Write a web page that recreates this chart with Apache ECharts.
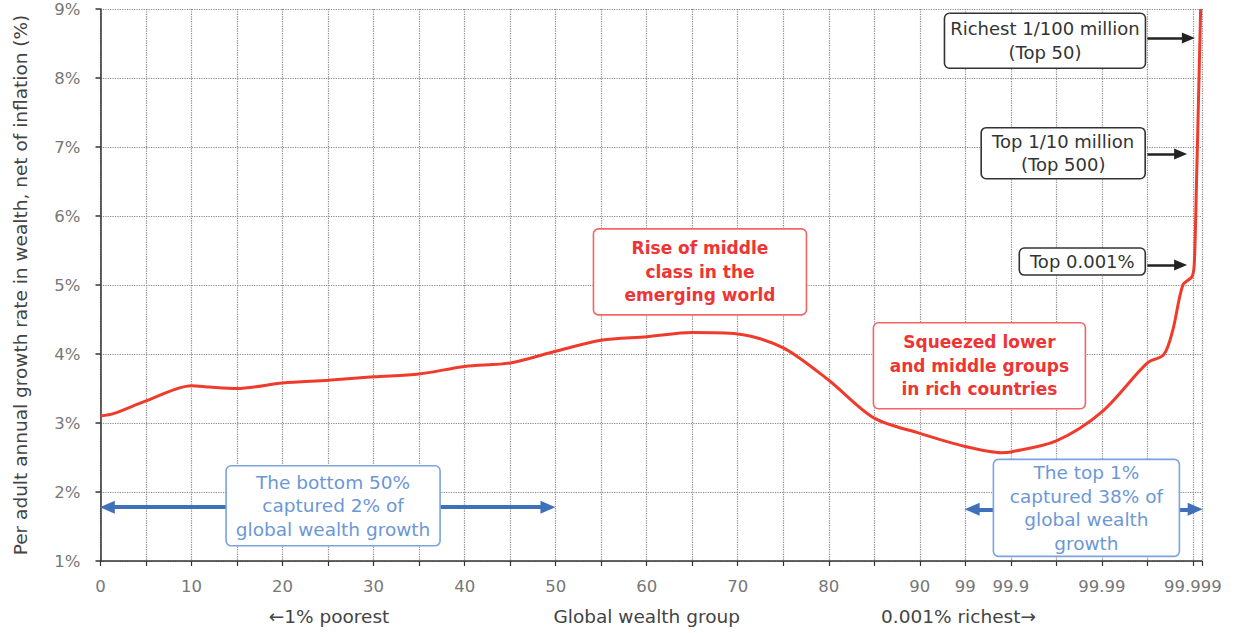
<!DOCTYPE html>
<html><head><meta charset="utf-8">
<script src="https://cdn.jsdelivr.net/npm/echarts@6/dist/echarts.min.js"></script>
<style>html,body{margin:0;padding:0;background:#fff}#c{width:1240px;height:633px}</style>
</head><body><div id="c"></div>
<script>
// Tick labels of the (non-linear) global wealth group axis, one per grid column
const xTickLabels = ['0','','10','','20','','30','','40','','50','','60','','70','','80','','90','99','99.9','','99.99','','99.999'];
// Position of each curve point along that axis (column index)
const groupPos = [0, 0.3, 1, 2, 2.4, 3, 4, 5, 6, 7, 8, 9, 10, 11, 12, 13, 14, 15, 16, 17, 18, 19, 19.8, 20, 21, 22, 23, 23.36, 23.56, 23.78, 23.98, 24.03, 24.08, 24.12, 24.17];
// Per adult annual growth rate in wealth (%)
const growth = [3.10, 3.14, 3.32, 3.54, 3.52, 3.50, 3.58, 3.62, 3.67, 3.71, 3.82, 3.87, 4.04, 4.20, 4.25, 4.31, 4.29, 4.09, 3.62, 3.07, 2.85, 2.66, 2.57, 2.58, 2.74, 3.16, 3.87, 3.99, 4.35, 5.00, 5.12, 5.30, 6.50, 7.60, 9.00];
const yTicks = [1, 9, 1]; // min, max, step
const bottomLabels = [['←1% poorest', 5.02], ['Global wealth group', 12.0], ['0.001% richest→', 18.85]];

const FONT = "'DejaVu Sans', sans-serif";
const RED = '#ef3b2c', BLUE_ARROW = '#3f70ba';

const annotations = [
  {lines:['Rise of middle','class in the','emerging world'], at:[13.17,5.19], w:213, h:86, kind:'red'},
  {lines:['Squeezed lower','and middle groups','in rich countries'], at:[19.31,3.83], w:212, h:86, kind:'red'},
  {lines:['The bottom 50%','captured 2% of','global wealth growth'], at:[5.11,1.80], w:214, h:80, kind:'blue'},
  {lines:['The top 1%','captured 38% of','global wealth','growth'], at:[21.66,1.77], w:186, h:97, kind:'blue'},
  {lines:['Richest 1/100 million','(Top 50)'], at:[20.75,8.54], w:201, h:55, kind:'black'},
  {lines:['Top 1/10 million','(Top 500)'], at:[21.15,6.91], w:164, h:51, kind:'black'},
  {lines:['Top 0.001%'], at:[21.57,5.34], w:126, h:27, kind:'black'}
];
const styles = {
  red:{stroke:'#f26565', fill:'#ee3434', weight:'bold', size:17},
  blue:{stroke:'#7ba3dd', fill:'#6c97d6', weight:'normal', size:18.5},
  black:{stroke:'#333', fill:'#333', weight:'normal', size:18}
};
const arrows = [
  {from:[0.15,1.78], to:[9.83,1.78], both:true, color:BLUE_ARROW, width:4, size:[13,15]},
  {from:[19.15,1.75], to:[24.05,1.75], both:true, color:BLUE_ARROW, width:4, size:[13,15]},
  {from:[23.0,8.58], to:[23.9,8.58], both:false, color:'#222', width:2.5, size:[11,13]},
  {from:[23.0,6.90], to:[23.73,6.90], both:false, color:'#222', width:2.5, size:[11,13]},
  {from:[23.0,5.29], to:[23.73,5.29], both:false, color:'#222', width:2.5, size:[11,13]}
];

const chart = echarts.init(document.getElementById('c'), null, {renderer:'svg'});
const onInt = v => Math.abs(v - Math.round(v)) < 1e-6;

chart.setOption({
  animation:false,
  grid:{left:100.5, right:38, top:9, bottom:72},
  xAxis:{
    type:'value', min:0, max:24.2, interval:1,
    axisLine:{show:true, lineStyle:{color:'#333', width:1.5}},
    axisTick:{show:true, length:5, lineStyle:{color:'#333', width:1.2}},
    axisLabel:{color:'#777', fontSize:16.5, fontFamily:FONT, margin:17,
      formatter:v => onInt(v) ? (xTickLabels[Math.round(v)] || '') : ''},
    splitLine:{show:true, lineStyle:{type:'dotted', color:'#888', width:1.2}}
  },
  yAxis:{
    type:'value', min:yTicks[0], max:yTicks[1], interval:yTicks[2],
    name:'Per adult annual growth rate in wealth, net of inflation (%)',
    nameLocation:'middle', nameGap:71, nameRotate:90,
    nameTextStyle:{color:'#444', fontSize:18.5, fontFamily:FONT},
    axisLine:{show:true, lineStyle:{color:'#333', width:1.5}},
    axisTick:{show:true, length:5, lineStyle:{color:'#333', width:1.5}},
    axisLabel:{color:'#777', fontSize:16.5, fontFamily:FONT, margin:20, formatter:'{value}%'},
    splitLine:{show:true, lineStyle:{type:'dotted', color:'#888', width:1.2}}
  },
  series:[
    {type:'line', data:groupPos.map((x,i)=>[x, growth[i]]), smooth:0.3, showSymbol:false,
     lineStyle:{color:RED, width:3}, z:5, silent:true},
    {type:'line', data:[], silent:true, z:4,
     markLine:{silent:true, animation:false, label:{show:false}, emphasis:{disabled:true},
       data:arrows.map(a => [
         {coord:a.from, symbol:a.both?'triangle':'none', symbolSize:a.size, lineStyle:{color:a.color, width:a.width, type:'solid'}},
         {coord:a.to, symbol:'triangle', symbolSize:a.size}
       ])}}
  ]
});

function place(){
  const g = [];
  annotations.forEach(a => {
    const p = chart.convertToPixel({gridIndex:0}, a.at);
    const s = styles[a.kind];
    g.push({type:'rect', z:100, shape:{x:p[0]-a.w/2, y:p[1]-a.h/2, width:a.w, height:a.h, r:5},
      style:{fill:'#fff', stroke:s.stroke, lineWidth:1.6}});
    g.push({type:'text', z:101, x:p[0], y:p[1],
      style:{text:a.lines.join('\n'), fill:s.fill, font:s.weight+' '+s.size+'px '+FONT,
        align:'center', verticalAlign:'middle', lineHeight:23.5}});
  });
  bottomLabels.forEach(([t, x]) => {
    const p = chart.convertToPixel({gridIndex:0}, [x, yTicks[0]]);
    g.push({type:'text', z:50, x:p[0], y:p[1]+55,
      style:{text:t, fill:'#444', font:'normal 18.5px '+FONT, align:'center', verticalAlign:'middle'}});
  });
  chart.setOption({graphic:g});
}
place();
</script>
</body></html>
